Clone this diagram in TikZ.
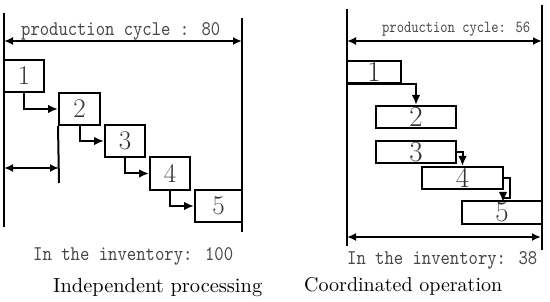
\documentclass[tikz,border=0pt]{standalone}
\usepackage{fontspec}
\usetikzlibrary{arrows.meta,calc}
\begin{document}
\begin{tikzpicture}[x=1pt,y=-1pt,
  lw/.style={line width=2pt},
  box/.style={lw,draw=black,rectangle,inner sep=0pt,text=black!80},
  ldig/.style={font=\fontsize{27}{27}\selectfont},
  rdig/.style={font=\fontsize{29}{29}\selectfont},
  arr/.style={lw,-{Latex[length=10pt,width=8.5pt]}},
  darr/.style={lw,{Latex[length=9pt,width=8pt]}-{Latex[length=9pt,width=8pt]}},
  lbl/.style={inner sep=0pt,anchor=base west,text=black!72}]
\useasboundingbox (0,0) rectangle (550,302);
% ---------- left: independent processing ----------
\coordinate (LLt) at (4,13);
\coordinate (LLb) at (4,227);
\coordinate (LRt) at (242,18);
\coordinate (LRb) at (242,232);
\draw[lw] (LLt) -- (LLb);
\draw[lw] (LRt) -- (LRb);
\coordinate (LA1) at (4,41);
\coordinate (LA2) at (242,41);
\draw[darr] (LA1) -- (LA2);
\node[lbl] (ltop) at (21,36) {\resizebox{199pt}{13pt}{\ttfamily production cycle : 80}};
\node[box,ldig,minimum width=40pt,minimum height=32pt] (L1) at (24,76) {1};
\node[box,ldig,minimum width=41pt,minimum height=32pt] (L2) at (79.5,109) {2};
\node[box,ldig,minimum width=40pt,minimum height=32pt] (L3) at (125,141) {3};
\node[box,ldig,minimum width=40pt,minimum height=33pt] (L4) at (170,173.5) {4};
\node[box,ldig,minimum width=47pt,minimum height=32pt] (L5) at (218.5,206) {5};
\draw[arr] (L1.south) |- (L2.west);
\draw[arr] (L2.south) |- (L3.west);
\draw[arr] (L3.south) |- (L4.west);
\draw[arr] (L4.south) |- (L5.west);
\coordinate (LMb) at (59,183);
\draw[lw] (L2.south west) -- (LMb);
\coordinate (LB1) at (4,168);
\coordinate (LB2) at (59,168);
\draw[darr] (LB1) -- (LB2);
\node[lbl] (linv) at (33,261) {\resizebox{200pt}{13pt}{\ttfamily In the inventory: 100}};
\node[lbl,text=black] (lcap) at (53,293) {\resizebox{209pt}{!}{Independent processing}};
% ---------- right: coordinated operation ----------
\coordinate (RLt) at (347,9);
\coordinate (RLb) at (347,246);
\coordinate (RRt) at (542,5);
\coordinate (RRb) at (542,250);
\draw[lw] (RLt) -- (RLb);
\draw[lw] (RRt) -- (RRb);
\coordinate (RA1) at (347,41);
\coordinate (RA2) at (542,41);
\draw[darr] (RA1) -- (RA2);
\node[lbl] (rtop) at (382,33) {\resizebox{148pt}{10.5pt}{\ttfamily production cycle: 56}};
\node[box,rdig,minimum width=54pt,minimum height=22pt] (R1) at (374,72) {1};
\node[box,rdig,minimum width=80pt,minimum height=22pt] (R2) at (416,117) {2};
\node[box,rdig,minimum width=80pt,minimum height=22pt] (R3) at (416,152) {3};
\node[box,rdig,minimum width=81pt,minimum height=22pt] (R4) at (462.5,178) {4};
\node[box,rdig,minimum width=80pt,minimum height=23pt] (R5) at (502,212.5) {5};
\draw[arr] (R1.south west) -| (R2.north);
\draw[arr] (R3.east) -| (R4.north);
\draw[arr] (R4.east) -- ++(6,0) |- ($(R4.south east)+(-1,8)$) -- ($(R4.south east)+(-1,12)$);
\coordinate (RB1) at (347,237);
\coordinate (RB2) at (541,237);
\draw[darr] (RB1) -- (RB2);
\node[lbl] (rinv) at (347,265) {\resizebox{190pt}{13pt}{\ttfamily In the inventory: 38}};
\node[lbl,text=black] (rcap) at (304,292) {\resizebox{198pt}{!}{Coordinated operation}};
\end{tikzpicture}
\end{document}
